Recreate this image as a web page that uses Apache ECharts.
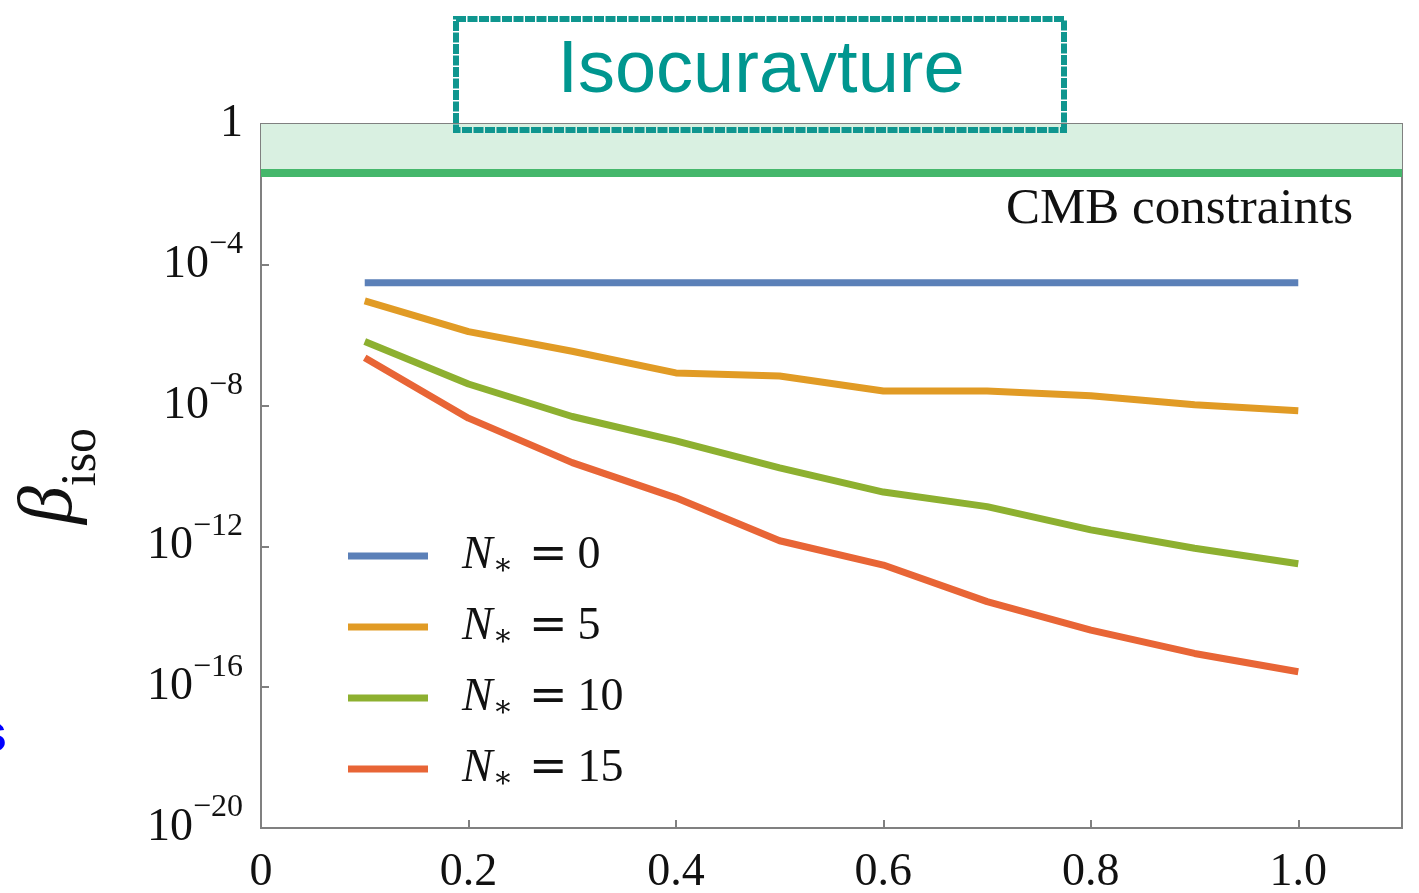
<!DOCTYPE html>
<html>
<head>
<meta charset="utf-8">
<script src="https://cdn.jsdelivr.net/npm/echarts@6/dist/echarts.min.js"></script>
<style>
  html, body { margin: 0; padding: 0; background: #fff; }
  #chart { width: 1419px; height: 893px; }
</style>
</head>
<body>
<div id="chart"></div>
<script>
// data
var xs = [0.1, 0.2, 0.3, 0.4, 0.5, 0.6, 0.7, 0.8, 0.9, 1.0];
var names = ['N* = 0', 'N* = 5', 'N* = 10', 'N* = 15'];
var colors = ['#5b80b8', '#e19b25', '#8db030', '#e86536'];
var n0 = [3.1e-5, 3.1e-5, 3.1e-5, 3.1e-5, 3.1e-5, 3.1e-5, 3.1e-5, 3.1e-5, 3.1e-5, 3.1e-5];
var n5 = [9.5e-6, 1.26e-6, 3.5e-7, 8.5e-8, 6.9e-8, 2.6e-8, 2.6e-8, 1.9e-8, 1.05e-8, 7.1e-9];
var n10 = [6.6e-7, 4.1e-8, 4.9e-9, 1.0e-9, 1.7e-10, 3.5e-11, 1.35e-11, 2.95e-12, 8.9e-13, 3.2e-13];
var n15 = [2.3e-7, 4.4e-9, 2.4e-10, 2.4e-11, 1.45e-12, 2.95e-13, 2.7e-14, 4.2e-15, 9.1e-16, 2.75e-16];
var cmbLimit = 0.035;

var serif = '"Liberation Serif", "DejaVu Serif", serif';

function pairs(ys) {
    return xs.map(function (x, i) { return [x, ys[i]]; });
}

var allY = [n0, n5, n10, n15];
var series = allY.map(function (ys, i) {
    return {
        name: names[i],
        type: 'line',
        data: pairs(ys),
        symbol: 'none',
        lineStyle: { width: 7, color: colors[i] },
        itemStyle: { color: colors[i] },
        z: 3
    };
});

// CMB band + limit line
series[0].markArea = {
    silent: true,
    itemStyle: { color: '#d9f0e1' },
    data: [[{ yAxis: cmbLimit }, { yAxis: 1 }]]
};
series[0].markLine = {
    silent: true,
    symbol: 'none',
    label: { show: false },
    lineStyle: { color: '#45b76b', width: 8, type: 'solid' },
    data: [{ yAxis: cmbLimit }]
};

var chart = echarts.init(document.getElementById('chart'));

var option = {
    animation: false,
    grid: {
        left: 261, top: 124, right: 17, bottom: 65,
        outerBoundsMode: 'none',
        show: true, borderColor: '#808080', borderWidth: 2
    },
    legend: {
        data: names,
        orient: 'vertical',
        left: 343,
        top: 528,
        icon: 'rect',
        itemWidth: 80,
        itemHeight: 7,
        itemGap: 23,
        formatter: function (name) {
            var rest = name.split('= ')[1];
            return '{n|N}{a|∗}{e|=}{t|' + rest + '}';
        },
        textStyle: {
            rich: {
                n: { fontFamily: serif, fontStyle: 'italic', fontSize: 46, color: '#111', lineHeight: 50, padding: [0, 0, 0, 29] },
                a: { fontFamily: serif, fontSize: 30, color: '#111', lineHeight: 50, verticalAlign: 'bottom', padding: [12, 0, 0, 0] },
                e: { fontFamily: '"DejaVu Sans", sans-serif', fontSize: 46, color: '#111', lineHeight: 50, padding: [0, 10, 0, 16] },
                t: { fontFamily: serif, fontSize: 46, color: '#111', lineHeight: 50 }
            }
        }
    },
    xAxis: {
        type: 'value',
        min: 0,
        max: 1.1,
        interval: 0.2,
        splitLine: { show: false },
        axisLine: { lineStyle: { color: '#808080', width: 2 } },
        axisTick: { inside: true, length: 8, lineStyle: { color: '#808080', width: 2 } },
        axisLabel: {
            margin: 22,
            fontFamily: serif,
            fontSize: 46,
            color: '#111',
            formatter: function (v) {
                if (v > 1.05) return '';
                return v === 0 ? '0' : v.toFixed(1);
            }
        }
    },
    yAxis: {
        type: 'log',
        logBase: 10,
        min: 1e-20,
        max: 1,
        interval: 4,
        splitLine: { show: false },
        axisLine: { lineStyle: { color: '#808080', width: 2 } },
        axisTick: { inside: true, length: 8, lineStyle: { color: '#808080', width: 2 } },
        axisLabel: {
            margin: 18,
            color: '#111',
            formatter: function (v) {
                var e = Math.round(Math.log10(v));
                if (e === 0) return '{b|1}';
                return '{b|10}{s|\u2212' + (-e) + '}';
            },
            rich: {
                b: { fontFamily: serif, fontSize: 46, color: '#111', lineHeight: 72, verticalAlign: 'middle' },
                s: { fontFamily: serif, fontSize: 32, color: '#111', lineHeight: 30, verticalAlign: 'top' }
            }
        },
        name: '{beta|\u03b2}{sub|iso}',
        nameLocation: 'middle',
        nameRotate: 90,
        nameGap: 154,
        nameTextStyle: {
            rich: {
                beta: { fontFamily: serif, fontStyle: 'italic', fontSize: 76, color: '#111', lineHeight: 80, verticalAlign: 'top' },
                sub: { fontFamily: serif, fontSize: 50, color: '#111', lineHeight: 94, verticalAlign: 'bottom' }
            }
        }
    },
    graphic: [
        {
            type: 'rect',
            shape: { x: 456, y: 19, width: 608, height: 111 },
            style: { fill: 'none', stroke: '#0f968f', lineWidth: 6, lineDash: [10, 1.5] },
            z: 10
        },
        {
            type: 'text',
            x: 761, y: 72,
            style: {
                text: 'Isocuravture',
                font: '74px "Liberation Sans", Arial, sans-serif',
                fill: '#00968f',
                textAlign: 'center',
                textVerticalAlign: 'middle'
            },
            z: 10
        },
        {
            type: 'text',
            x: 1353, y: 210,
            style: {
                text: 'CMB constraints',
                font: '51px ' + serif,
                fill: '#111',
                textAlign: 'right',
                textVerticalAlign: 'middle'
            },
            z: 10
        },
        {
            type: 'text',
            x: 7, y: 736,
            style: {
                text: 's',
                font: 'bold 54px "Liberation Sans", sans-serif',
                fill: '#0000ff',
                textAlign: 'right',
                textVerticalAlign: 'middle'
            }
        }
    ],
    series: series
};

chart.setOption(option);
</script>
</body>
</html>
